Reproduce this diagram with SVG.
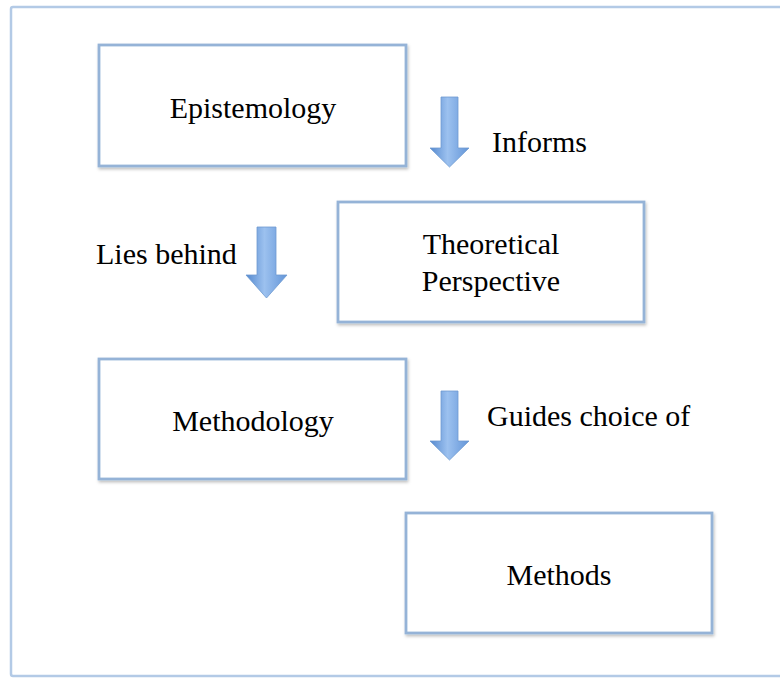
<svg xmlns="http://www.w3.org/2000/svg" width="780" height="679" viewBox="0 0 780 679">
<defs>
<style>
.box{fill:#fff;stroke:#95b3d7;stroke-width:2.8}
.frame{fill:#fff;stroke:#b3cae6;stroke-width:2.5}
.t{font-family:"Liberation Serif","Times New Roman",serif;font-size:30px;fill:#000}
.arr{fill:url(#g);stroke:#6f9bd0;stroke-width:0.8}
</style>
<linearGradient id="g" x1="0" y1="0" x2="1" y2="0">
<stop offset="0" stop-color="#5589cf"/>
<stop offset="0.45" stop-color="#9cc1ef"/>
<stop offset="1" stop-color="#6395d8"/>
</linearGradient>
<filter id="sh" x="-10%" y="-10%" width="120%" height="130%">
<feDropShadow dx="1" dy="2" stdDeviation="1.5" flood-color="#000" flood-opacity="0.25"/>
</filter>
</defs>
<rect width="780" height="679" fill="#fff"/>
<rect class="frame" x="11" y="7" width="790" height="669" rx="2"/>
<g id="connectors">
<path class="arr" d="M441,97 H458 V148 H469 L449.5,167 L430,148 H441 Z"/>
<path class="arr" d="M257,227 H276 V275 H287 L266.5,298 L246,275 H257 Z"/>
<path class="arr" d="M441,391 H458 V441 H469 L449.5,460 L430,441 H441 Z"/>
<text class="t" x="492" y="152">Informs</text>
<text class="t" x="96" y="264">Lies behind</text>
<text class="t" x="487" y="426">Guides choice of</text>
</g>
<g id="epistemology">
<rect class="box" filter="url(#sh)" x="99" y="45" width="307" height="121"/>
<text class="t" x="253" y="118" text-anchor="middle">Epistemology</text>
</g>
<g id="theoretical-perspective">
<rect class="box" filter="url(#sh)" x="338" y="202" width="306" height="120"/>
<text class="t" x="491" y="254" text-anchor="middle">Theoretical</text>
<text class="t" x="491" y="291" text-anchor="middle">Perspective</text>
</g>
<g id="methodology">
<rect class="box" filter="url(#sh)" x="99" y="359" width="307" height="120"/>
<text class="t" x="253" y="431" text-anchor="middle">Methodology</text>
</g>
<g id="methods">
<rect class="box" filter="url(#sh)" x="406" y="513" width="306" height="120"/>
<text class="t" x="559" y="585" text-anchor="middle">Methods</text>
</g>
</svg>
